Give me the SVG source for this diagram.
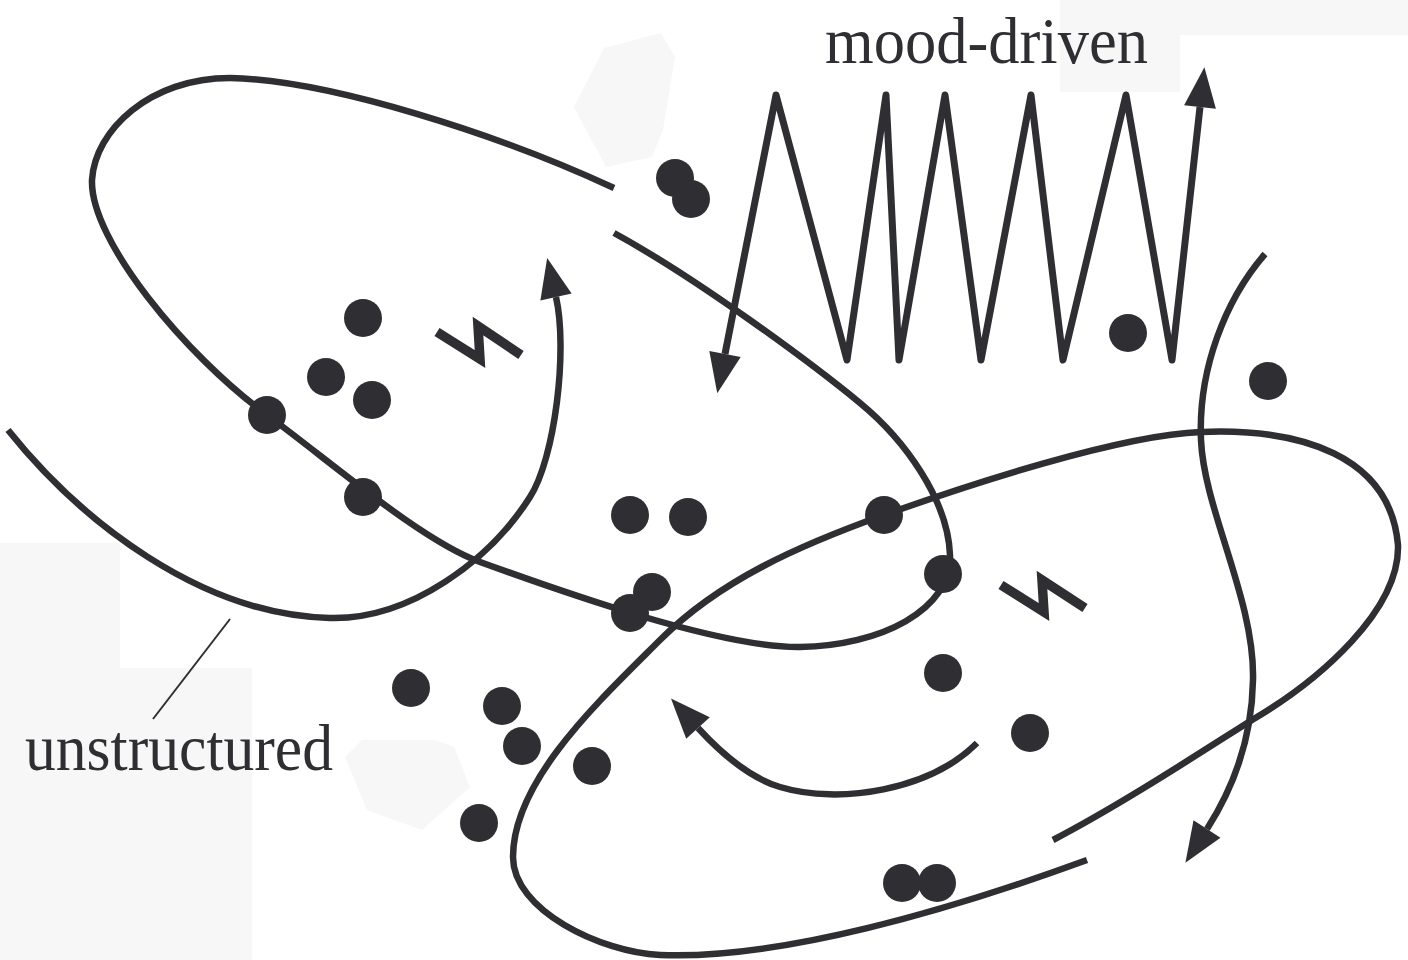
<svg xmlns="http://www.w3.org/2000/svg" width="1408" height="960" viewBox="0 0 1408 960">
  <style>
    .ln { fill: none; stroke: #2f2e33; stroke-width: 6.5; stroke-linecap: butt; stroke-linejoin: round; }
    .zz { fill: none; stroke: #2f2e33; stroke-width: 7; stroke-linejoin: round; }
    .bolt { fill: none; stroke: #2f2e33; stroke-width: 9.5; stroke-linejoin: miter; stroke-miterlimit: 10; }
    .dot { fill: #2f2e33; }
    .bg { fill: #f7f7f7; }
    .lbl { font-family: "Liberation Serif", "Times New Roman", serif; font-size: 66px; fill: #2f2e33; }
    .lead { fill: none; stroke: #2f2e33; stroke-width: 2; }
  </style>
  <defs>
    <marker id="ah" markerUnits="userSpaceOnUse" viewBox="0 -17 41 34" markerWidth="41" markerHeight="34" refX="0" refY="0" orient="auto-start-reverse" overflow="visible">
      <path d="M40,0 L0,-16 L0,16 Z" fill="#2f2e33"/>
    </marker>
  </defs>
  <rect width="1408" height="960" fill="#ffffff"/>

  <g id="background-patches">
    <polygon class="bg" points="604,48 661,33 675,57 663,130 652,157 606,167 574,107"/>
    <path class="bg" d="M1060,0 H1408 V35 H1180 V92 H1060 Z"/>
    <path class="bg" d="M0,543 H120 V668 H252 V960 H0 Z"/>
    <polygon class="bg" points="345,757 362,740 435,740 454,747 470,787 422,830 367,810"/>
  </g>

  <g id="connectors">
    <!-- ellipse 1 (upper left loop) -->
    <path id="loop-1" class="ln" d="M614,188 C500,135 330,80 230,78 C150,78 95,130 92,180 C90,240 185,355 267,415 C330,461 420,540 480,562 C560,591 720,648 800,647 C880,646 952,610 950,555 C948,500 905,440 860,403 C815,366 700,280 614,233"/>
    <!-- ellipse 2 (lower right loop) -->
    <path id="loop-2" class="ln" d="M1087,860 C950,910 780,960 660,955 C600,952 513,910 513,857 C513,780 600,700 660,640 C720,580 800,545 884,515 C968,485 1120,435 1201,432 C1300,428 1390,455 1398,545 C1400,610 1320,680 1252,720 C1195,756 1120,805 1053,840"/>
    <!-- left swoosh with upward arrow -->
    <path id="swoosh-left" class="ln" marker-end="url(#ah)" d="M8,430 C80,520 200,615 330,618 C410,620 490,560 530,497 C555,458 568,350 556,297"/>
    <!-- right swoosh with downward arrow -->
    <path id="swoosh-right" class="ln" marker-end="url(#ah)" d="M1265,254 C1225,300 1198,370 1201,440 C1204,510 1255,600 1253,680 C1252,740 1232,790 1207,829"/>
    <!-- inner arrow in loop 2 -->
    <path id="arc-inner" class="ln" marker-end="url(#ah)" d="M977,743 C930,790 840,805 780,787 C750,778 720,752 698,728"/>
    <!-- mood-driven zigzag -->
    <polyline id="zigzag" class="zz" marker-start="url(#ah)" marker-end="url(#ah)" points="725,354 776,95 847,360 886,95 899,360 945,95 981,360 1031,95 1063,360 1126,95 1172,360 1200,107"/>
    <!-- leader line -->
    <line class="lead" x1="230" y1="619" x2="153" y2="719"/>
  </g>

  <g id="bolts">
    <polyline id="bolt-1" class="bolt" points="437,332 480,359 478,326 521,355"/>
    <polyline id="bolt-2" class="bolt" points="1001,585 1044,612 1042,580 1085,608"/>
  </g>

  <g id="dots">
    <circle class="dot" cx="675" cy="178" r="19"/>
    <circle class="dot" cx="691" cy="199" r="19"/>
    <circle class="dot" cx="1128" cy="333" r="19"/>
    <circle class="dot" cx="1268" cy="381" r="19"/>
    <circle class="dot" cx="363" cy="318" r="19"/>
    <circle class="dot" cx="326" cy="377" r="19"/>
    <circle class="dot" cx="372" cy="400" r="19"/>
    <circle class="dot" cx="267" cy="415" r="19"/>
    <circle class="dot" cx="363" cy="497" r="19"/>
    <circle class="dot" cx="630" cy="515" r="19"/>
    <circle class="dot" cx="688" cy="517" r="19"/>
    <circle class="dot" cx="652" cy="592" r="19"/>
    <circle class="dot" cx="630" cy="613" r="19"/>
    <circle class="dot" cx="884" cy="515" r="19"/>
    <circle class="dot" cx="943" cy="574" r="19"/>
    <circle class="dot" cx="943" cy="673" r="19"/>
    <circle class="dot" cx="1030" cy="733" r="19"/>
    <circle class="dot" cx="902" cy="883" r="19"/>
    <circle class="dot" cx="937" cy="883" r="19"/>
    <circle class="dot" cx="411" cy="688" r="19"/>
    <circle class="dot" cx="502" cy="706" r="19"/>
    <circle class="dot" cx="522" cy="746" r="19"/>
    <circle class="dot" cx="592" cy="766" r="19"/>
    <circle class="dot" cx="479" cy="823" r="19"/>
  </g>

  <g id="labels">
    <text id="label-mood" class="lbl" x="825" y="63" textLength="323" lengthAdjust="spacingAndGlyphs">mood-driven</text>
    <text id="label-unstructured" class="lbl" x="25" y="770" textLength="308" lengthAdjust="spacingAndGlyphs">unstructured</text>
  </g>
</svg>
